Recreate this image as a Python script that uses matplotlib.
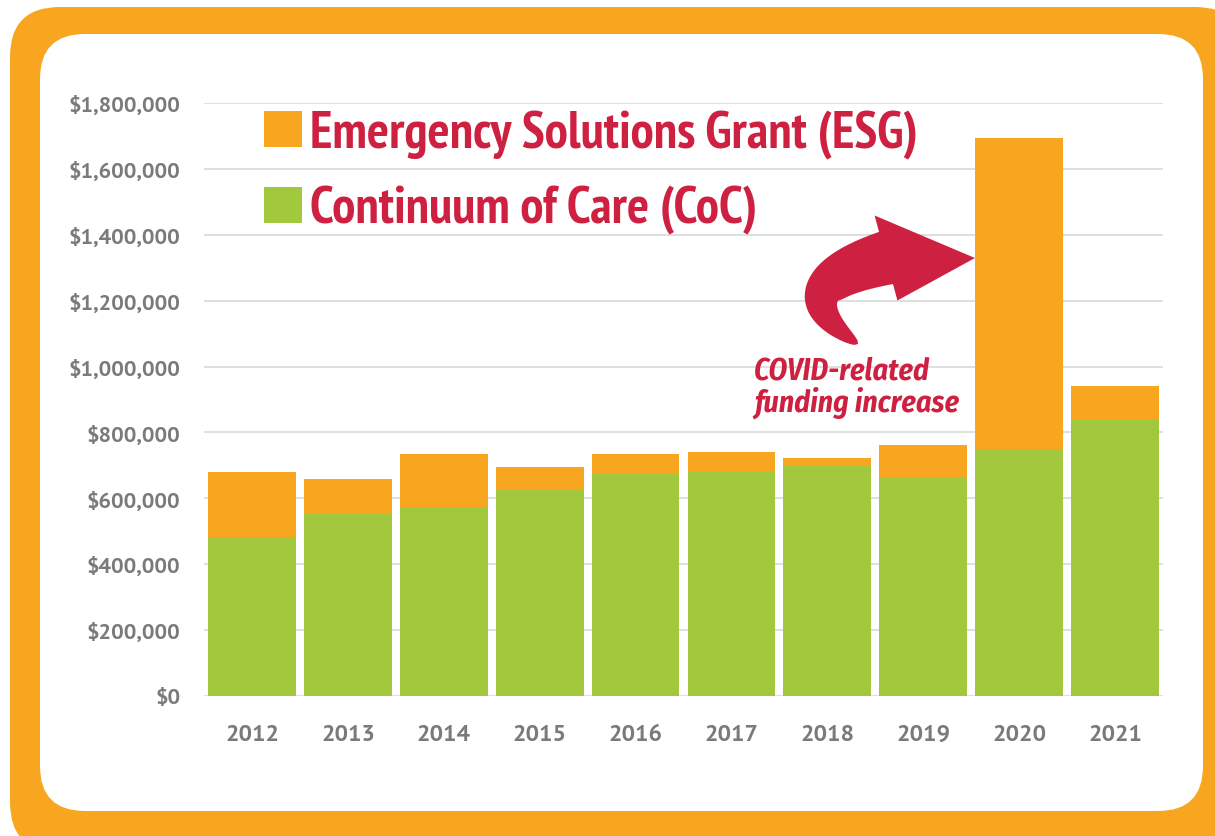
import numpy as np
import matplotlib
matplotlib.use('Agg')
import matplotlib.pyplot as plt
from matplotlib.patches import FancyBboxPatch, Polygon
from matplotlib.ticker import FuncFormatter, MultipleLocator
from matplotlib.font_manager import FontProperties, findfont

# ---------------- data ----------------
years = ['2012', '2013', '2014', '2015', '2016', '2017', '2018', '2019', '2020', '2021']
coc = [482000, 552000, 573000, 625000, 673000, 679000, 699000, 661000, 750000, 838000]
esg = [197000, 107000, 161000, 71000, 61000, 61000, 23000, 101000, 945000, 102000]
esg_label = 'Emergency Solutions Grant (ESG)'
coc_label = 'Continuum of Care (CoC)'
note = 'COVID-related\nfunding increase'

# ---------------- style ----------------
ORANGE = '#F8A61F'
GREEN = '#A2C93D'
CRIMSON = '#CE2141'
GRAY = '#7A7A7A'
GRID = '#DCDCDC'


def pick(families, **kw):
    for f in families:
        try:
            findfont(FontProperties(family=f, **kw), fallback_to_default=False)
            return f
        except Exception:
            pass
    return 'DejaVu Sans'


TICKF = pick(['PT Sans', 'Fira Sans', 'Liberation Sans'], weight='bold')
LEGF = pick(['PT Sans Narrow', 'Fira Sans Condensed', 'Open Sans Condensed', 'Roboto Condensed'], weight='bold')
NOTEF = pick(['Fira Sans Condensed', 'Roboto Condensed', 'Open Sans Condensed'], weight='bold', style='italic')

W, H = 1215, 837
fig = plt.figure(figsize=(W / 100, H / 100), dpi=100)
fig.patch.set_facecolor('white')
renderer = fig.canvas.get_renderer()


def fit_size(s, fp, target_px):
    fp = fp.copy()
    fp.set_size(100)
    t = fig.text(0, 0, s, fontproperties=fp)
    w = t.get_window_extent(renderer).width
    t.remove()
    return 100 * target_px / w


tick_fp = FontProperties(family=TICKF, weight='bold')
ytick_size = fit_size('$1,800,000', tick_fp, 112)
xtick_size = fit_size('2012', tick_fp, 54)
leg_fp = FontProperties(family=LEGF, weight='bold')
leg_size = fit_size(esg_label, leg_fp, 608)
leg_fp.set_size(leg_size)
note_fp = FontProperties(family=NOTEF, weight='bold', style='italic')
note_fp.set_size(fit_size('funding increase', note_fp, 205))

# background frame (pixel coordinates, y downward)
bg = fig.add_axes([0, 0, 1, 1], zorder=-5)
bg.set_xlim(0, W)
bg.set_ylim(H, 0)
bg.axis('off')
bg.add_patch(FancyBboxPatch((10, 8), 1235, 845, boxstyle='round,pad=0,rounding_size=50',
                            fc=ORANGE, ec='none'))
bg.add_patch(FancyBboxPatch((40, 35), 1163, 777, boxstyle='round,pad=0,rounding_size=45',
                            fc='white', ec='none'))

# main chart
ax = fig.add_axes([204 / W, 1 - 697 / H, 959 / W, 593 / H])
ax.set_facecolor('none')
x = np.arange(len(years))
h_coc = ax.bar(x, coc, width=0.915, color=GREEN, zorder=2, label=coc_label)
h_esg = ax.bar(x, esg, width=0.915, bottom=coc, color=ORANGE, zorder=2, label=esg_label)

ax.set_xlim(-0.5, len(years) - 0.5)
ax.set_ylim(0, 1800000)
ax.yaxis.set_major_locator(MultipleLocator(200000))
ax.yaxis.set_major_formatter(FuncFormatter(lambda v, p: f'${v:,.0f}'))
ax.set_xticks(x)
ax.set_xticklabels(years)
ax.grid(axis='y', color=GRID, lw=1.3, zorder=0)
ax.set_axisbelow(True)
for s in ax.spines.values():
    s.set_visible(False)
ax.tick_params(axis='both', length=0, colors=GRAY)
ax.tick_params(axis='y', pad=17)
ax.tick_params(axis='x', pad=20)
for lab in ax.get_yticklabels():
    lab.set_fontproperties(FontProperties(family=TICKF, weight='bold', size=ytick_size))
    lab.set_color(GRAY)
for lab in ax.get_xticklabels():
    lab.set_fontproperties(FontProperties(family=TICKF, weight='bold', size=xtick_size))
    lab.set_color(GRAY)

fs_px = leg_size * 100 / 72
leg = ax.legend(handles=[h_esg, h_coc], labels=[esg_label, coc_label],
                loc='upper left', bbox_to_anchor=(60 / 959, 1.0 - 7 / 593), frameon=False,
                prop=leg_fp, labelcolor=CRIMSON,
                handlelength=38 / fs_px, handleheight=36 / fs_px,
                handletextpad=8 / fs_px, labelspacing=0.6 - 5 / fs_px,
                borderpad=0, borderaxespad=0)

# front overlay: arrow + note
fr = fig.add_axes([0, 0, 1, 1], zorder=5)
fr.set_xlim(0, W)
fr.set_ylim(H, 0)
fr.axis('off')
fr.patch.set_alpha(0)

P0 = np.array([858.0, 345.0])
P1 = np.array([790.0, 300.0])
P3 = np.array([886.0, 259.0])
ang = np.deg2rad(15)
dirn = np.array([np.cos(ang), -np.sin(ang)])
P2 = P3 - 60 * dirn
tip = np.array([975.0, 259.0])
neck_w = 54.0
head_hw = 44.0
t = np.linspace(0, 1, 100)[:, None]
B = (1 - t) ** 3 * P0 + 3 * (1 - t) ** 2 * t * P1 + 3 * (1 - t) * t ** 2 * P2 + t ** 3 * P3
D = 3 * ((1 - t) ** 2 * (P1 - P0) + 2 * (1 - t) * t * (P2 - P1) + t ** 2 * (P3 - P2))
D = D / np.linalg.norm(D, axis=1)[:, None]
nrm = np.hstack([-D[:, 1:2], D[:, 0:1]])
wid = neck_w * t ** 0.5 / 2
side_a = B + nrm * wid
side_b = B - nrm * wid
n_end = nrm[-1]
head = [P3 + n_end * head_hw, tip, P3 - n_end * head_hw]
poly = np.vstack([side_a, head, side_b[::-1]])
fr.add_patch(Polygon(poly, closed=True, fc=CRIMSON, ec='none'))

fr.text(754, 356, note, ha='left', va='top', color=CRIMSON, linespacing=1.02,
        fontproperties=note_fp)

fig.savefig('out.png', dpi=100, facecolor='white')
